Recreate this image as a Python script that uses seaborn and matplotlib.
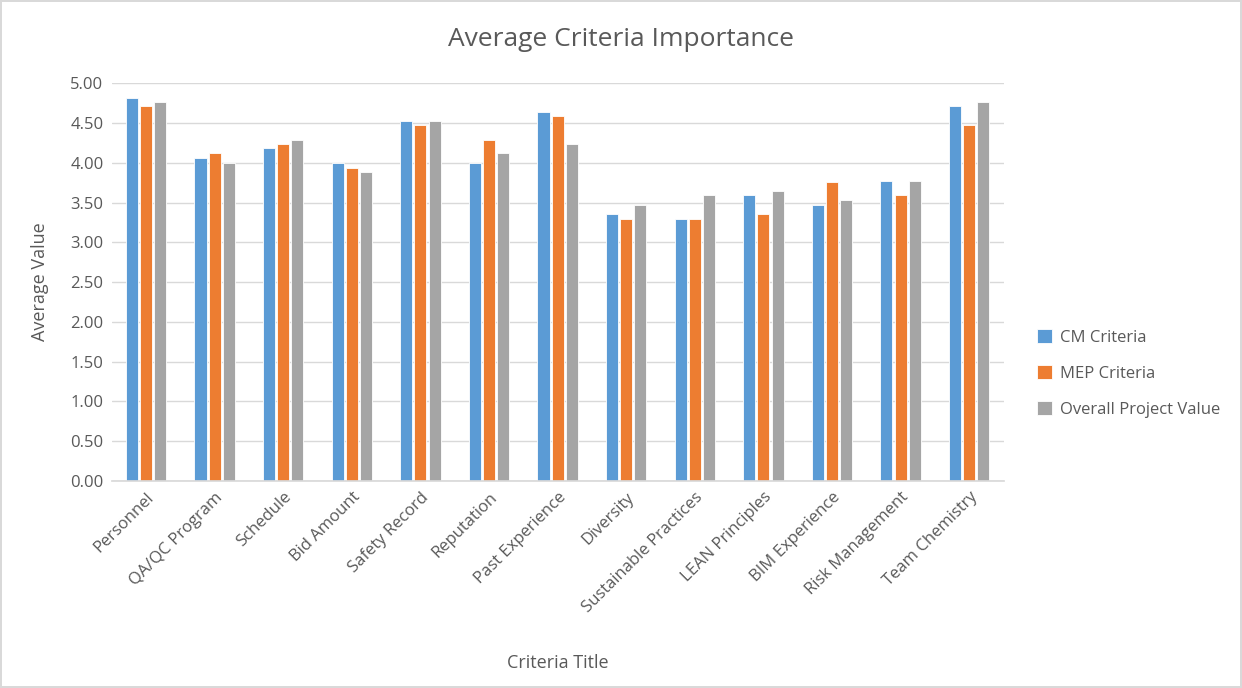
import matplotlib
matplotlib.use("Agg")
import matplotlib.pyplot as plt
import seaborn as sns
import pandas as pd

categories = ["Personnel", "QA/QC Program", "Schedule", "Bid Amount", "Safety Record",
              "Reputation", "Past Experience", "Diversity", "Sustainable Practices",
              "LEAN Principles", "BIM Experience", "Risk Management", "Team Chemistry"]
cm_criteria = [4.82, 4.06, 4.18, 4.00, 4.52, 4.00, 4.64, 3.35, 3.29, 3.59, 3.47, 3.77, 4.71]
mep_criteria = [4.71, 4.12, 4.24, 3.94, 4.47, 4.29, 4.59, 3.29, 3.29, 3.35, 3.76, 3.59, 4.47]
overall_value = [4.76, 4.00, 4.29, 3.88, 4.52, 4.12, 4.24, 3.47, 3.59, 3.65, 3.53, 3.77, 4.76]
series_names = ["CM Criteria", "MEP Criteria", "Overall Project Value"]
colors = ["#5B9BD5", "#ED7D31", "#A5A5A5"]

rows = []
for name, vals in zip(series_names, [cm_criteria, mep_criteria, overall_value]):
    for c, v in zip(categories, vals):
        rows.append({"Criteria": c, "Series": name, "Value": v})
df = pd.DataFrame(rows)

sns.set_theme(style="white")
plt.rcParams["font.family"] = ["Open Sans", "DejaVu Sans"]

fig = plt.figure(figsize=(12.42, 6.88), dpi=100)
fig.patch.set_edgecolor("#D9D9D9")
fig.patch.set_linewidth(1.5)
ax = fig.add_axes([0.090, 0.301, 0.718, 0.578])

sns.barplot(data=df, x="Criteria", y="Value", hue="Series", order=categories,
            hue_order=series_names, palette=colors, width=0.62, gap=0.15,
            saturation=1, edgecolor="white", linewidth=0.6, ax=ax, legend=True)

ax.set_ylim(0, 5)
ax.set_yticks([i * 0.5 for i in range(11)])
ax.set_yticklabels([f"{i * 0.5:.2f}" for i in range(11)], fontsize=12, color="#595959")
ax.yaxis.grid(True, color="#D9D9D9", linewidth=1)
ax.set_axisbelow(True)
for s in ["top", "right", "left"]:
    ax.spines[s].set_visible(False)
ax.spines["bottom"].set_color("#D9D9D9")
ax.tick_params(axis="both", length=0, pad=6)
ax.set_xticks(range(len(categories)))
ax.set_xticklabels(categories, rotation=45, ha="right", rotation_mode="anchor",
                   fontsize=12, color="#595959")
ax.set_xlabel("Criteria Title", fontsize=13, color="#595959", labelpad=0)
ax.xaxis.set_label_coords(0.5, -0.435)
ax.set_ylabel("Average Value", fontsize=13, color="#595959")
ax.yaxis.set_label_coords(-0.07, 0.5)
fig.suptitle("Average Criteria Importance", fontsize=19, color="#595959",
             x=0.5, y=0.942, va="center")

handles, labels = ax.get_legend_handles_labels()
ax.get_legend().remove()
fig.legend(handles, labels, loc="center left", bbox_to_anchor=(0.823, 0.457),
           frameon=False, fontsize=12, handlelength=0.9, handleheight=0.9,
           handletextpad=0.5, labelspacing=1.15, labelcolor="#595959")

fig.savefig("out.png", dpi=100, edgecolor=fig.get_edgecolor())
